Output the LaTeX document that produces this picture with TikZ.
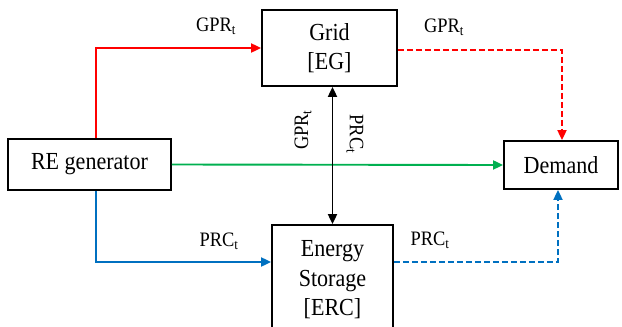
\documentclass[tikz,border=0pt]{standalone}
\usepackage{fontspec}
\setmainfont{Liberation Serif}[FakeStretch=0.9]
\usetikzlibrary{arrows.meta,calc}
\definecolor{cred}{RGB}{255,0,0}
\definecolor{cgreen}{RGB}{0,176,80}
\definecolor{cblue}{RGB}{0,112,192}
\begin{document}
\begin{tikzpicture}[x=1pt,y=-1pt,
  box/.style={draw=black,line width=1.8pt,inner sep=0pt,align=center,
    font=\fontsize{24.5}{29.5}\selectfont},
  lbl/.style={inner sep=0pt,font=\fontsize{20.5}{24}\selectfont},
  conn/.style={line width=1.9pt,-{Triangle[length=10pt,width=9pt]}},
  dashline/.style={dash pattern=on 6pt off 3pt}]
\useasboundingbox (0,0) rectangle (622,327);
\node[box,minimum width=163pt,minimum height=51pt] (re) at (89.5,164.5) {RE generator};
\node[box,minimum width=135pt,minimum height=76pt] (grid) at (329.5,48) {Grid\\{[EG]}};
\node[box,minimum width=114pt,minimum height=48pt] (dem) at (561,165) {Demand};
\node[box,minimum width=121pt,minimum height=110pt] (st) at (332.5,280) {Energy\\Storage\\{[ERC]}};
% connectors
\draw[conn,cred] ([xshift=6.5pt]re.north) |- (grid.west);
\draw[conn,cred,dashline] ([yshift=-2pt]grid.east) -| ([xshift=1pt]dem.north);
\draw[conn,cgreen] (re.east) -- (dem.west);
\draw[conn,cblue] ([xshift=6.5pt]re.south) |- ([yshift=18pt]st.west);
\draw[conn,cblue,dashline] ([yshift=18pt]st.east) -| ([xshift=-3pt]dem.south);
\draw[line width=1.9pt,{Triangle[length=10pt,width=9pt]}-{Triangle[length=10pt,width=9pt]}] (st.north |- grid.south) -- (st.north);
% labels
\node[lbl] (l1) at (216,26) {GPR\textsubscript{t}};
\node[lbl] (l2) at (444,27) {GPR\textsubscript{t}};
\node[lbl] (l3) at (219,241) {PRC\textsubscript{t}};
\node[lbl] (l4) at (430,240) {PRC\textsubscript{t}};
\node[lbl,rotate=90] (l5) at (303,130) {GPR\textsubscript{t}};
\node[lbl,rotate=-90] (l6) at (355,134) {PRC\textsubscript{t}};
\end{tikzpicture}
\end{document}
